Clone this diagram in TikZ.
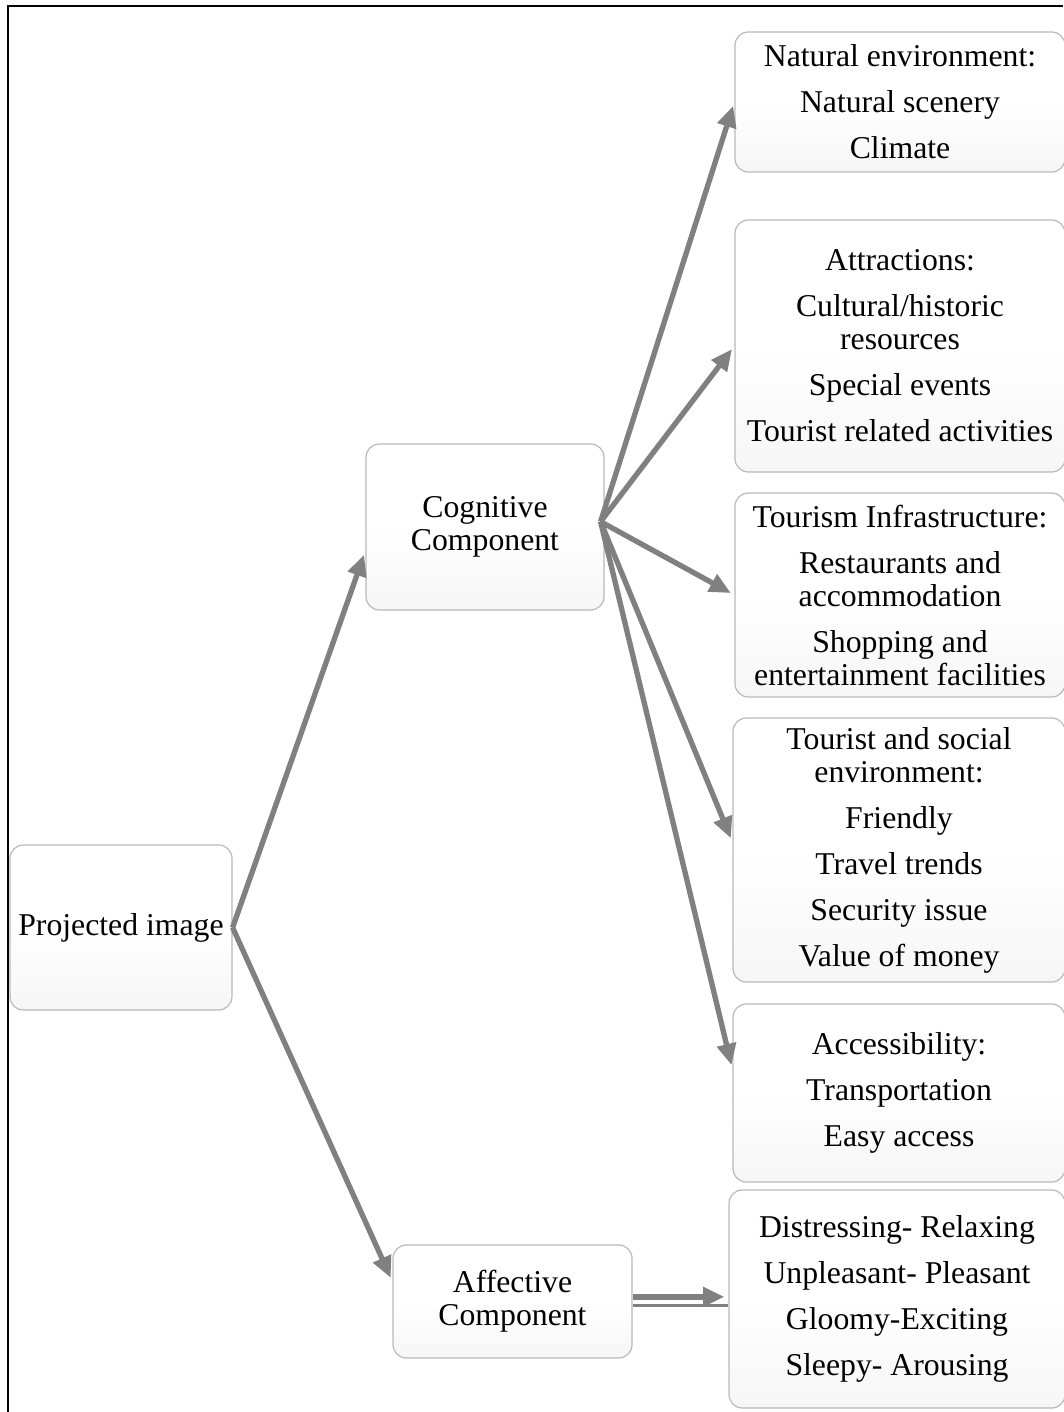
\documentclass[tikz,border=0pt]{standalone}
\usepackage{fontspec}
\setmainfont{Liberation Serif}
\usetikzlibrary{arrows.meta}
\definecolor{arrowgray}{RGB}{128,128,128}
\tikzset{
  box/.style={draw=gray!55, line width=0.9pt, rounded corners=10pt,
    top color=white, bottom color=gray!7, middle color=white, align=center, inner sep=0pt,
    font=\fontsize{23.8}{24.75}\selectfont},
  arr/.style={draw=arrowgray, line width=4pt,
    -{Triangle[length=16pt,width=14pt]}, shorten >=3pt},
  thin/.style={draw=arrowgray, line width=2pt}
}
\newcommand{\gap}{\\[9.75pt]}
\begin{document}
\begin{tikzpicture}[x=0.75pt,y=-0.75pt]
\useasboundingbox (0,0) rectangle (1063,1412);
% outer frame
\draw[line width=1.6pt] (8,1412) -- (8,6) -- (1063,6);

% left and middle boxes
\node[box, minimum width=166.5pt, minimum height=123.75pt] (proj) at (121,927.5) {Projected image};
\node[box, minimum width=178.5pt, minimum height=124.5pt] (cog) at (485,527) {Cognitive\\Component};
\node[box, minimum width=179.25pt, minimum height=84.75pt] (aff) at (512.5,1301.5) {Affective\\Component};

% right column boxes
\node[box, minimum width=247.5pt, minimum height=105pt] (nat) at (900,102)
  {Natural environment:\gap Natural scenery\gap Climate};
\node[box, minimum width=247.5pt, minimum height=189pt] (attr) at (900,346)
  {Attractions:\gap Cultural/historic\\resources\gap Special events\gap Tourist related activities};
\node[box, minimum width=247.5pt, minimum height=153pt] (infra) at (900,595)
  {Tourism Infrastructure:\gap Restaurants and\\accommodation\gap Shopping and\\entertainment facilities};
\node[box, minimum width=249pt, minimum height=198pt] (soc) at (899,850)
  {Tourist and social\\environment:\gap Friendly\gap Travel trends\gap Security issue\gap Value of money};
\node[box, minimum width=249pt, minimum height=133.5pt] (acc) at (899,1093)
  {Accessibility:\gap Transportation\gap Easy access};
\node[box, minimum width=252pt, minimum height=163.5pt] (emo) at (897,1299)
  {Distressing- Relaxing\gap Unpleasant- Pleasant\gap Gloomy-Exciting\gap Sleepy- Arousing};

% connectors
\draw[arr] (proj.east) -- ([yshift=-18pt]cog.west);
\draw[arr] (proj.east) -- ([yshift=15pt]aff.west);
\draw[arr] ([xshift=-3pt,yshift=4pt]cog.east) -- (nat.west);
\draw[arr] ([xshift=-3pt,yshift=4pt]cog.east) -- (attr.west);
\draw[arr] ([xshift=-3pt,yshift=4pt]cog.east) -- (infra.west);
\draw[arr] ([xshift=-3pt,yshift=4pt]cog.east) -- ([yshift=6pt]soc.west);
\draw[arr] ([xshift=-3pt,yshift=4pt]cog.east) -- ([yshift=18pt]acc.west);
\draw[arr] ([yshift=3.5pt]aff.east) -- ([yshift=3.5pt]aff.east -| emo.west);
\draw[thin] ([yshift=-3pt]aff.east) -- ([yshift=-3pt]aff.east -| emo.west);
\end{tikzpicture}
\end{document}
